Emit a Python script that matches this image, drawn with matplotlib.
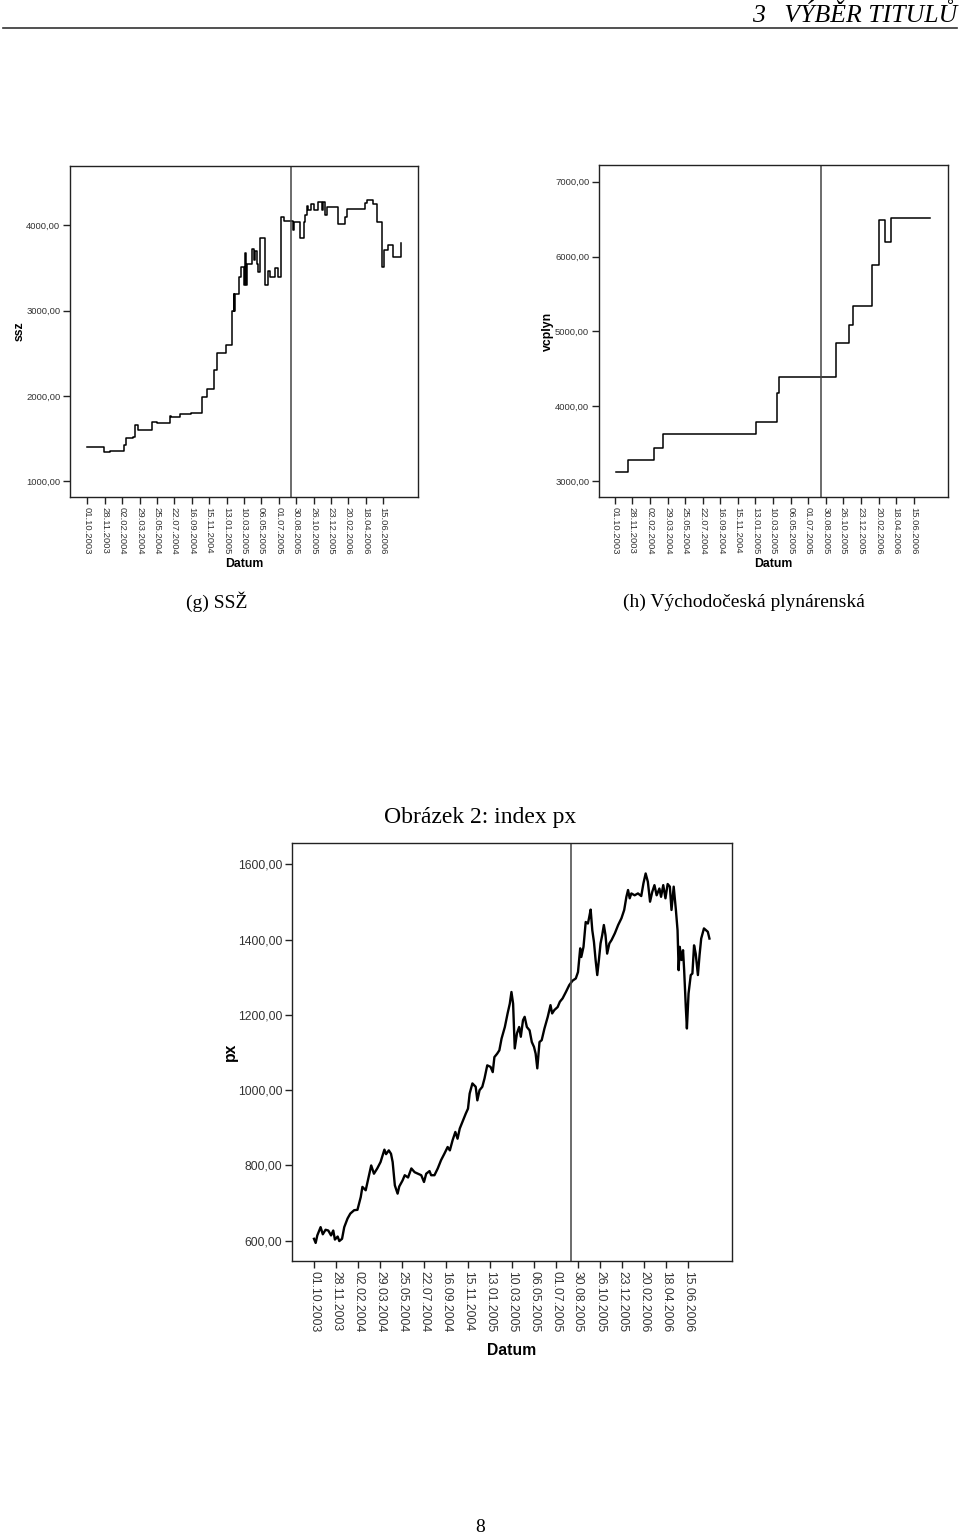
import matplotlib
matplotlib.use('Agg')
import matplotlib.pyplot as plt
from matplotlib.lines import Line2D

# x axis = trading day index, one label every 40 days
date_labels = ['01.10.2003', '28.11.2003', '02.02.2004', '29.03.2004', '25.05.2004',
               '22.07.2004', '16.09.2004', '15.11.2004', '13.01.2005', '10.03.2005',
               '06.05.2005', '01.07.2005', '30.08.2005', '26.10.2005', '23.12.2005',
               '20.02.2006', '18.04.2006', '15.06.2006']
tick_step = 40
split_idx = 468  # vertical line (start of test period)

# (g) SSZ - step series
ssz_x = [0, 38, 52, 83, 89, 104, 110, 116, 148, 159,
         189, 193, 213, 238, 264, 276, 290, 299, 318, 333,
         336, 338, 340, 349, 352, 359, 362, 365, 368, 378,
         382, 385, 389, 393, 397, 408, 416, 420, 431, 439,
         445, 451, 472, 475, 489, 497, 500, 504, 508, 513,
         520, 529, 539, 541, 546, 550, 577, 592, 596, 638,
         642, 656, 665, 678, 682, 690, 702, 721]
ssz_y = [1400, 1340, 1350, 1420, 1510, 1520, 1655, 1600, 1695, 1680,
         1765, 1750, 1793, 1800, 1990, 2080, 2300, 2505, 2600, 3000,
         3190, 3000, 3190, 3400, 3510, 3300, 3670, 3300, 3550, 3720,
         3590, 3700, 3550, 3450, 3855, 3305, 3470, 3400, 3500, 3400,
         4100, 4045, 3940, 4040, 3855, 4040, 4115, 4225, 4175, 4255,
         4180, 4275, 4180, 4275, 4115, 4215, 4010, 4100, 4195, 4260,
         4300, 4255, 4040, 3510, 3705, 3765, 3630, 3795]

# (h) Vychodoceska plynarenska - step series
vcplyn_x = [2, 29, 90, 110, 321, 368, 374, 504, 532, 543, 586, 602, 614, 628, 716]
vcplyn_y = [3125, 3280, 3450, 3625, 3795, 4185, 4395, 4850, 5085, 5340, 5890, 6490,
            6200, 6515, 6515]

# index px
px_idx = [0, 3, 6, 12, 16, 21, 26, 31, 35, 38,
          43, 46, 51, 55, 61, 66, 73, 79, 85, 88,
          94, 98, 104, 109, 115, 121, 128, 131, 136, 140,
          143, 147, 152, 155, 161, 165, 171, 177, 183, 189,
          195, 200, 204, 210, 213, 219, 225, 231, 237, 243,
          247, 252, 257, 261, 265, 271, 276, 280, 283, 288,
          294, 297, 301, 306, 310, 315, 321, 325, 328, 333,
          337, 341, 347, 352, 356, 359, 362, 365, 369, 373,
          376, 380, 383, 387, 392, 396, 400, 403, 406, 410,
          414, 419, 425, 430, 433, 437, 443, 447, 452, 458,
          464, 470, 476, 480, 484, 486, 490, 494, 498, 500,
          503, 506, 509, 512, 515, 518, 521, 524, 527, 530,
          533, 537, 541, 547, 553, 559, 564, 568, 571, 574,
          577, 583, 589, 595, 599, 603, 607, 611, 615, 619,
          623, 628, 631, 635, 639, 643, 647, 650, 654, 658,
          661, 663, 665, 668, 671, 673, 676, 678, 681, 685,
          688, 691, 694, 698, 701, 704, 709, 713, 716, 719]
px_val = [605, 594, 614, 636, 617, 629, 627, 614, 627, 603,
          611, 599, 605, 636, 659, 672, 681, 682, 716, 743,
          734, 760, 800, 778, 792, 809, 842, 830, 840, 831,
          809, 747, 725, 744, 760, 774, 768, 792, 782, 778,
          774, 756, 778, 785, 774, 774, 792, 814, 831, 849,
          840, 867, 889, 871, 898, 920, 938, 951, 991, 1018,
          1009, 973, 1000, 1009, 1031, 1066, 1062, 1048, 1088, 1097,
          1106, 1137, 1168, 1204, 1230, 1261, 1230, 1111, 1151, 1168,
          1142, 1186, 1195, 1168, 1159, 1128, 1115, 1097, 1058, 1128,
          1133, 1164, 1195, 1226, 1204, 1213, 1221, 1235, 1244, 1261,
          1279, 1291, 1297, 1314, 1377, 1354, 1381, 1447, 1443, 1457,
          1480, 1425, 1394, 1346, 1306, 1346, 1390, 1412, 1439, 1412,
          1363, 1390, 1399, 1417, 1439, 1457, 1479, 1514, 1532, 1510,
          1523, 1518, 1523, 1516, 1550, 1576, 1554, 1501, 1527, 1545,
          1518, 1536, 1514, 1545, 1510, 1548, 1541, 1479, 1541, 1479,
          1425, 1319, 1381, 1346, 1372, 1319, 1221, 1164, 1257, 1306,
          1310, 1385, 1363, 1306, 1359, 1403, 1430, 1425, 1421, 1403]

W, H = 960, 1538
SANS = 'Liberation Sans'
SERIF = 'Liberation Serif'


def px_box(left, top, right, bottom):
    # pixel box -> figure fraction rect
    return [left / W, 1 - bottom / H, (right - left) / W, (bottom - top) / H]


def spss_axes(ax, yticks, ylim, ylabel, tick_fs, lab_fs, ylab_x, xlab_y):
    ax.set_xlim(-40, 760)
    ax.set_ylim(*ylim)
    ax.set_xticks([i * tick_step for i in range(len(date_labels))])
    ax.set_xticklabels(date_labels, rotation=-90, fontsize=tick_fs,
                       family=SANS, color='#333333')
    ax.set_yticks(yticks)
    ax.set_yticklabels([f'{v:.2f}'.replace('.', ',') for v in yticks],
                       fontsize=tick_fs, family=SANS, color='#333333')
    ax.tick_params(length=5, width=1, color='#222222', pad=2)
    for s in ax.spines.values():
        s.set_color('#222222')
        s.set_linewidth(1.0)
    ax.axvline(split_idx, color='#444444', lw=1.1)
    ax.set_xlabel('Datum', fontsize=lab_fs, family=SANS, fontweight='bold')
    ax.set_ylabel(ylabel, fontsize=lab_fs, family=SANS, fontweight='bold')
    ax.xaxis.set_label_coords(0.5, xlab_y)
    ax.yaxis.set_label_coords(ylab_x, 0.5)


fig = plt.figure(figsize=(W / 100, H / 100), dpi=100)

# page header
fig.text(957 / W, 1 - 15 / H, '3   VÝBĚR TITULŮ', ha='right', va='center',
         fontsize=18.5, family=SERIF, style='italic')
fig.add_artist(Line2D([3 / W, 957 / W], [1 - 28 / H, 1 - 28 / H],
                      color='#333333', lw=1.2))

# (g)
ax1 = fig.add_axes(px_box(70, 166, 418, 497))
ax1.plot(ssz_x, ssz_y, drawstyle='steps-post', color='black', lw=1.1)
spss_axes(ax1, [1000, 2000, 3000, 4000], (816, 4695), 'ssz', 6.8, 8.8, -0.127, -0.184)

# (h)
ax2 = fig.add_axes(px_box(599, 165, 948, 497))
ax2.plot(vcplyn_x, vcplyn_y, drawstyle='steps-post', color='black', lw=1.1)
spss_axes(ax2, [3000, 4000, 5000, 6000, 7000], (2790, 7223), 'vcplyn', 6.8, 8.8,
          -0.129, -0.184)
ax2.set_xlim(-36, 758)

fig.text(217 / W, 1 - 602 / H, '(g) SSŽ', ha='center', va='center',
         fontsize=14, family=SERIF)
fig.text(744 / W, 1 - 602 / H, '(h) Východočeská plynárenská', ha='center',
         va='center', fontsize=14, family=SERIF)
fig.text(480 / W, 1 - 817 / H, 'Obrázek 2: index px', ha='center', va='center',
         fontsize=17, family=SERIF)

# px
ax3 = fig.add_axes(px_box(292, 843, 732, 1261))
ax3.plot(px_idx, px_val, color='black', lw=1.7)
spss_axes(ax3, [600, 800, 1000, 1200, 1400, 1600], (546, 1657), 'px', 8.8, 11.3,
          -0.124, -0.197)

fig.text(480 / W, 1 - 1527 / H, '8', ha='center', va='center', fontsize=14,
         family=SERIF)

fig.savefig('out.png', dpi=100, facecolor='white')
